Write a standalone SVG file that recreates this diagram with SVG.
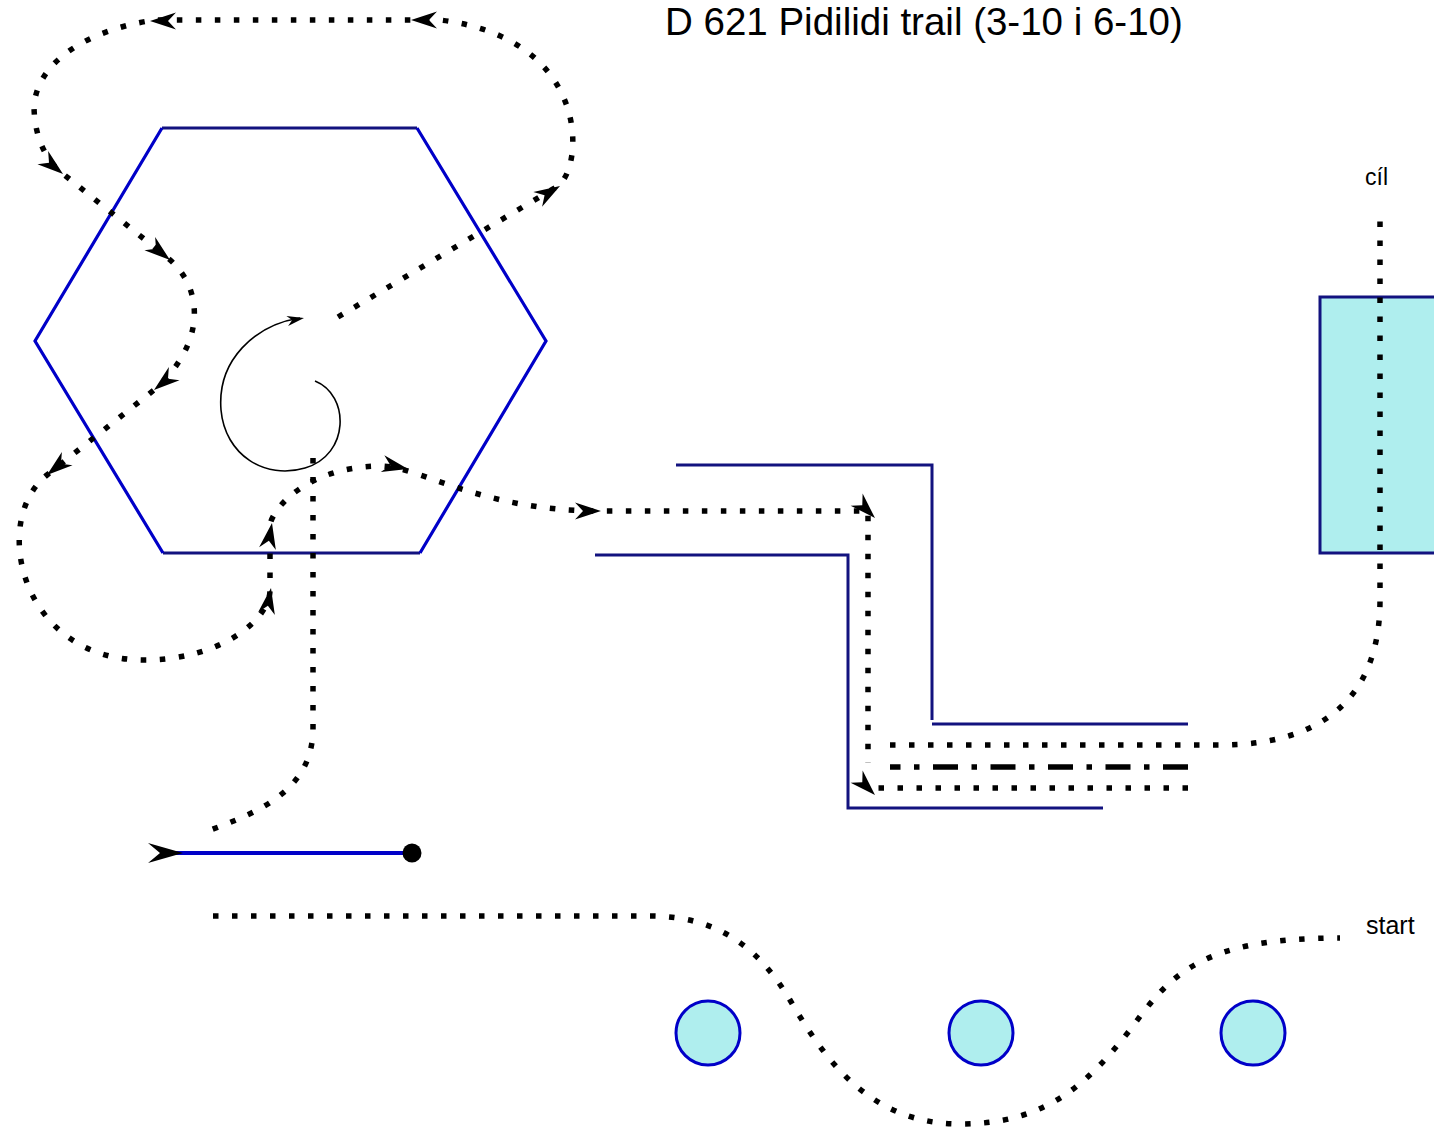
<svg xmlns="http://www.w3.org/2000/svg" xmlns:xlink="http://www.w3.org/1999/xlink" width="1434" height="1128" viewBox="0 0 1434 1128">
<style>
.dot{fill:none;stroke:#000;stroke-width:5.5;stroke-dasharray:5.5 13.5}
.navy{fill:none;stroke:#12127f;stroke-width:3}
.blue{fill:none;stroke:#0000c8;stroke-width:3.2}
.lbl{font-family:"Liberation Sans",Arial,sans-serif;fill:#000}
.arr{fill:#000}
</style>
<defs>
<path id="ah" d="M0,0 L-26,-8.5 L-18,0 L-26,8.5 Z"/>
<path id="ahs" d="M0,0 L-17,-5 L-12,0 L-17,5 Z"/>
<path id="ahb" d="M0,0 L-35,-10 L-23,0 L-35,10 Z"/>
</defs>
<rect width="1434" height="1128" fill="#fff"/>

<text class="lbl" x="665" y="35" font-size="38.5">D 621 Pidilidi trail (3-10 i 6-10)</text>

<g id="goal-box">
<rect x="1320" y="297" width="130" height="256" fill="#afeeee" stroke="#12127f" stroke-width="3"/>
</g>

<g id="hexagon">
<line class="navy" x1="162" y1="128" x2="417" y2="128"/>
<line class="navy" x1="163" y1="553" x2="420" y2="553"/>
<polyline class="blue" points="162,128 35,341 163,553"/>
<polyline class="blue" points="417,128 546,341 420,553"/>
</g>

<g id="tunnel">
<polyline class="navy" points="676,465 932,465 932,720"/>
<line class="navy" x1="932" y1="724" x2="1188" y2="724"/>
<polyline class="navy" points="595,555 848,555 848,808 1103,808"/>
</g>

<g id="circles">
<circle cx="708" cy="1033" r="32" fill="#afeeee" stroke="#0000c8" stroke-width="3"/>
<circle cx="981" cy="1033" r="32" fill="#afeeee" stroke="#0000c8" stroke-width="3"/>
<circle cx="1253" cy="1033" r="32" fill="#afeeee" stroke="#0000c8" stroke-width="3"/>
</g>

<g id="legend-line">
<line x1="170" y1="853" x2="412" y2="853" stroke="#0000c8" stroke-width="4"/>
<circle cx="412" cy="853" r="9.5" fill="#000"/>
<use href="#ahb" class="arr" transform="translate(183,853)"/>
</g>

<g id="spiral">
<path d="M315,381 C350,395 350,455 305,468 C265,480 225,455 221,410 C217,360 255,325 300,318" fill="none" stroke="#000" stroke-width="1.6"/>
<use href="#ahs" class="arr" transform="translate(304,318) rotate(-10)"/>
</g>

<g id="connectors">
<path class="dot" d="M338,317 L558,186 C585,165 590,38 440,20 H155 C110,26 40,50 34,105 C34,135 45,160 62,173 L169,259 C205,290 205,345 154,390 L47,475 C-10,520 20,660 144,660 C220,660 270,620 270,590 V525 C272,510 305,467 380,466 C420,466 480,511 600,511 H868 V763"/>
<path class="dot" d="M313,458 V728 C313,790 260,812 205,832"/>
<path class="dot" d="M890,745 H1220 C1320,745 1380,700 1380,600 V212"/>
<path d="M1188,767 H890" fill="none" stroke="#000" stroke-width="5.5" stroke-dasharray="25 13.5 5.5 13.5"/>
<path class="dot" d="M1188,788 H872"/>
<path class="dot" d="M213,916 H650 C720,916 760,950 790,1000 C825,1060 870,1124 960,1124 C1050,1124 1090,1080 1130,1030 C1170,975 1200,938 1340,938"/>
<use href="#ah" class="arr" transform="translate(411,20) rotate(180)"/>
<use href="#ah" class="arr" transform="translate(150,21) rotate(180)"/>
<use href="#ah" class="arr" transform="translate(63,174) rotate(39)"/>
<use href="#ah" class="arr" transform="translate(170,260) rotate(39)"/>
<use href="#ah" class="arr" transform="translate(154,390) rotate(141)"/>
<use href="#ah" class="arr" transform="translate(47,475) rotate(141)"/>
<use href="#ah" class="arr" transform="translate(271,588) rotate(-80)"/>
<use href="#ah" class="arr" transform="translate(272,523) rotate(-80)"/>
<use href="#ah" class="arr" transform="translate(408,469) rotate(12)"/>
<use href="#ah" class="arr" transform="translate(601,511)"/>
<use href="#ah" class="arr" transform="translate(875,518) rotate(45)"/>
<use href="#ah" class="arr" transform="translate(875,795) rotate(45)"/>
<use href="#ah" class="arr" transform="translate(560,186) rotate(-31)"/>
</g>

<text class="lbl" x="1365" y="185" font-size="23">cíl</text>
<text class="lbl" x="1366" y="934" font-size="25">start</text>
</svg>
